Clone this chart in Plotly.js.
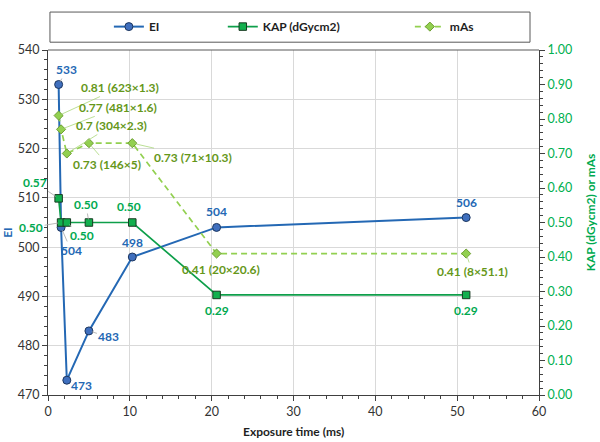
<!DOCTYPE html>
<html>
<head>
<meta charset="utf-8">
<script src="https://cdn.plot.ly/plotly-3.0.1.min.js"></script>
<style>
  html, body { margin: 0; padding: 0; background: #fff; }
  #chart { width: 600px; height: 442px; }
</style>
</head>
<body>
<div id="chart"></div>
<script>
// Exposure series: time (ms), exposure index, kerma-area product and tube load
const exposureTime = [1.3, 1.6, 2.3, 5, 10.3, 20.6, 51.1];
const eiValues = [533, 504, 473, 483, 498, 504, 506];
const kapValues = [0.57, 0.50, 0.50, 0.50, 0.50, 0.29, 0.29];
const masValues = [0.81, 0.77, 0.70, 0.73, 0.73, 0.41, 0.41];
const tubeCurrent = [623, 481, 304, 146, 71, 20, 8];

// Label placement per point: [dx px, dy px, draw leader line]
const eiLabelPos = [[8, -15, 1], [10, 23, 1], [15, 5, 0], [20, 6, 1], [0, -15, 0], [0, -16, 0], [0, -15, 0]];
const kapLabelPos = [[-24, -16, 1], [-30, 5, 1], [15, 13, 1], [-3, -18, 1], [-3, -16, 0], [0, 16, 0], [0, 16, 0]];
const masLabelPos = [[61, -28, 1], [57, -22, 1], [45, -28, 1], [18, 21, 1], [61, 14, 1], [4, 16, 0], [6, 18, 1]];

const FONT = 'Lato, "Open Sans", "DejaVu Sans", sans-serif';
const EI_LINE = '#2468B4', EI_TEXT = '#2468B4';
const KAP_LINE = '#0E9F4A', KAP_TEXT = '#00A94F';
const MAS_LINE = '#92D050', MAS_TEXT = '#659719';
const AXIS = '#404040';

const traces = [
  {
    x: exposureTime, y: eiValues, name: 'EI', type: 'scatter', mode: 'lines+markers',
    yaxis: 'y', legend: 'legend',
    line: { color: EI_LINE, width: 2 },
    marker: { symbol: 'circle', size: 8, color: '#3F6FBE', line: { color: '#1C365F', width: 1 } }
  },
  {
    x: exposureTime, y: kapValues, name: 'KAP (dGycm2)', type: 'scatter', mode: 'lines+markers',
    yaxis: 'y2', legend: 'legend2',
    line: { color: KAP_LINE, width: 1.7 },
    marker: { symbol: 'square', size: 7.5, color: '#12B04E', line: { color: '#173A20', width: 1 } }
  },
  {
    x: exposureTime, y: masValues, name: 'mAs', type: 'scatter', mode: 'lines+markers',
    yaxis: 'y2', legend: 'legend3',
    line: { color: MAS_LINE, width: 1.7, dash: '6px,4px' },
    marker: { symbol: 'diamond', size: 7, color: '#92D050', line: { color: '#6E9E33', width: 1 } }
  }
];

function dataLabel(x, y, yref, text, pos, color, leaderColor) {
  const a = {
    x: x, y: y, xref: 'x', yref: yref, text: text,
    font: { family: FONT, size: 12, color: color, weight: 'bold' }
  };
  if (pos[2]) {
    Object.assign(a, {
      showarrow: true, ax: pos[0], ay: pos[1], arrowhead: 0,
      arrowwidth: 0.8, arrowcolor: leaderColor, standoff: 3
    });
  } else {
    Object.assign(a, { showarrow: false, xshift: pos[0], yshift: -pos[1] });
  }
  return a;
}

const annotations = [];
exposureTime.forEach((t, i) => {
  annotations.push(dataLabel(t, eiValues[i], 'y', String(eiValues[i]), eiLabelPos[i], EI_TEXT, '#A6A6A6'));
  annotations.push(dataLabel(t, kapValues[i], 'y2', kapValues[i].toFixed(2), kapLabelPos[i], KAP_TEXT, '#A6A6A6'));
  const masText = String(masValues[i]) + ' (' + tubeCurrent[i] + '×' + String(t) + ')';
  annotations.push(dataLabel(t, masValues[i], 'y2', masText, masLabelPos[i], MAS_TEXT, '#A9D77A'));
});

// Axis titles
annotations.push({
  text: 'Exposure time (ms)', xref: 'paper', yref: 'paper', x: 0.5, y: -0.107,
  xanchor: 'center', yanchor: 'middle', showarrow: false,
  font: { family: FONT, size: 12, color: '#1F1F1F', weight: 'bold' }
});
annotations.push({
  text: 'EI', xref: 'paper', yref: 'paper', x: -0.0815, y: 0.47,
  xanchor: 'center', yanchor: 'middle', showarrow: false, textangle: -90,
  font: { family: FONT, size: 12, color: EI_TEXT, weight: 'bold' }
});
annotations.push({
  text: 'KAP (dGycm2) or mAs', xref: 'paper', yref: 'paper', x: 1.104, y: 0.53,
  xanchor: 'center', yanchor: 'middle', showarrow: false, textangle: -90,
  font: { family: FONT, size: 12, color: KAP_TEXT, weight: 'bold' }
});

const legendCommon = {
  orientation: 'h', y: 1.0678, yanchor: 'middle', xanchor: 'left',
  bgcolor: 'rgba(0,0,0,0)', borderwidth: 0,
  font: { family: FONT, size: 12, color: '#1F1F1F', weight: 'bold' }
};

const axisCommon = {
  showline: true, linecolor: AXIS, linewidth: 1,
  ticks: 'outside', ticklen: 5, tickcolor: AXIS, tickwidth: 1,
  zeroline: false, fixedrange: true
};

const layout = {
  width: 600, height: 442,
  margin: { l: 48, r: 61, t: 41, b: 47, pad: 0 },
  paper_bgcolor: '#ffffff', plot_bgcolor: '#ffffff',
  font: { family: FONT, size: 12, color: AXIS },
  xaxis: Object.assign({}, axisCommon, {
    range: [0, 60], tick0: 0, dtick: 10,
    showgrid: true, gridcolor: '#D9D9D9', gridwidth: 1,
    minor: { dtick: 2, ticks: 'outside', ticklen: 3, tickcolor: AXIS, showgrid: false },
    tickfont: { family: FONT, size: 12.5, color: '#333333' }
  }),
  yaxis: Object.assign({}, axisCommon, {
    range: [470, 540], tick0: 470, dtick: 10,
    showgrid: true, gridcolor: '#D9D9D9', gridwidth: 1,
    minor: { dtick: 2, ticks: 'outside', ticklen: 3, tickcolor: AXIS, showgrid: false },
    tickfont: { family: FONT, size: 12.5, color: '#333333' }
  }),
  yaxis2: Object.assign({}, axisCommon, {
    overlaying: 'y', side: 'right', range: [0, 1], tick0: 0, dtick: 0.1,
    tickformat: '.2f', showgrid: false,
    minor: { dtick: 0.02, ticks: 'outside', ticklen: 3, tickcolor: AXIS, showgrid: false },
    tickfont: { family: FONT, size: 12.5, color: '#00B050' }
  }),
  legend: Object.assign({}, legendCommon, { x: 0.124 }),
  legend2: Object.assign({}, legendCommon, { x: 0.356 }),
  legend3: Object.assign({}, legendCommon, { x: 0.737 }),
  shapes: [
    // top edge of the plot area
    { type: 'line', xref: 'paper', yref: 'paper', x0: 0, x1: 1, y0: 1, y1: 1,
      line: { color: '#595959', width: 1 } },
    // frame around the legend
    { type: 'rect', xref: 'paper', yref: 'paper', x0: 0.004, x1: 0.9817, y0: 1.0226, y1: 1.110,
      line: { color: '#595959', width: 1 }, fillcolor: 'rgba(0,0,0,0)' }
  ],
  annotations: annotations,
  showlegend: true
};

Plotly.newPlot('chart', traces, layout, { displayModeBar: false, staticPlot: true });
</script>
</body>
</html>
